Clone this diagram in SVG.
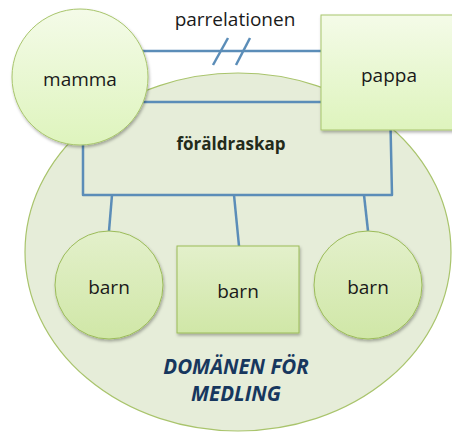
<svg xmlns="http://www.w3.org/2000/svg" width="452" height="432" viewBox="0 0 452 432">
  <defs>
    <linearGradient id="gParent" x1="0" y1="0" x2="0" y2="1">
      <stop offset="0" stop-color="#f4fbe8"/>
      <stop offset="1" stop-color="#def4bd"/>
    </linearGradient>
    <linearGradient id="gChild" x1="0" y1="0" x2="0" y2="1">
      <stop offset="0" stop-color="#e3f0cb"/>
      <stop offset="1" stop-color="#d0e7a7"/>
    </linearGradient>
    <filter id="shadow" x="-20%" y="-20%" width="140%" height="140%">
      <feDropShadow dx="1" dy="2" stdDeviation="1.5" flood-color="#000" flood-opacity="0.3"/>
    </filter>
    <style>
      .lbl { font-family: "Open Sans", "Liberation Sans", sans-serif; font-size: 19px; fill: #1a1a1a; text-anchor: middle; }
      .bold { font-weight: bold; font-size: 17px; fill: #232b1a; }
      .dom { font-family: "Open Sans", "Liberation Sans", sans-serif; font-size: 20.5px; font-weight: bold; font-style: italic; fill: #17375e; text-anchor: middle; }
      .conn { stroke: #5b8db8; stroke-width: 2.5; fill: none; }
      .parent { fill: url(#gParent); stroke: #a8c56c; stroke-width: 1; filter: url(#shadow); }
      .child { fill: url(#gChild); stroke: #9bbb59; stroke-width: 1; filter: url(#shadow); }
    </style>
  </defs>

  <g id="domanen">
    <ellipse cx="238" cy="252" rx="213" ry="179" fill="#e6edd9" stroke="#a9c46c" stroke-width="1.2"/>
    <text class="dom" x="236" y="374">DOMÄNEN FÖR</text>
    <text class="dom" x="236" y="401">MEDLING</text>
  </g>

  <g id="connectors">
    <line class="conn" x1="140" y1="51" x2="322" y2="51"/>
    <line class="conn" x1="213" y1="65" x2="228" y2="38"/>
    <line class="conn" x1="236" y1="65" x2="250" y2="38"/>
    <text class="lbl" x="235" y="26">parrelationen</text>
    <line class="conn" x1="112" y1="195" x2="109" y2="231"/>
    <line class="conn" x1="234" y1="195" x2="239" y2="246"/>
    <line class="conn" x1="364" y1="195" x2="368" y2="231"/>
  </g>

  <g id="foraldraskap">
    <path class="conn" d="M83 102 L390 102 L392 195 L83 195 Z" stroke-linejoin="round"/>
    <text class="lbl bold" x="231" y="150">föräldraskap</text>
  </g>

  <g id="mamma">
    <circle class="parent" cx="80" cy="77" r="68"/>
    <text class="lbl" x="80" y="86">mamma</text>
  </g>

  <g id="pappa">
    <rect class="parent" x="321" y="15" width="140" height="115"/>
    <text class="lbl" x="389" y="82">pappa</text>
  </g>

  <g id="barn1">
    <circle class="child" cx="109" cy="285" r="54"/>
    <text class="lbl" x="109" y="294">barn</text>
  </g>

  <g id="barn2">
    <rect class="child" x="177" y="246" width="122" height="87"/>
    <text class="lbl" x="238" y="298">barn</text>
  </g>

  <g id="barn3">
    <circle class="child" cx="368" cy="285" r="54"/>
    <text class="lbl" x="368" y="294">barn</text>
  </g>
</svg>
